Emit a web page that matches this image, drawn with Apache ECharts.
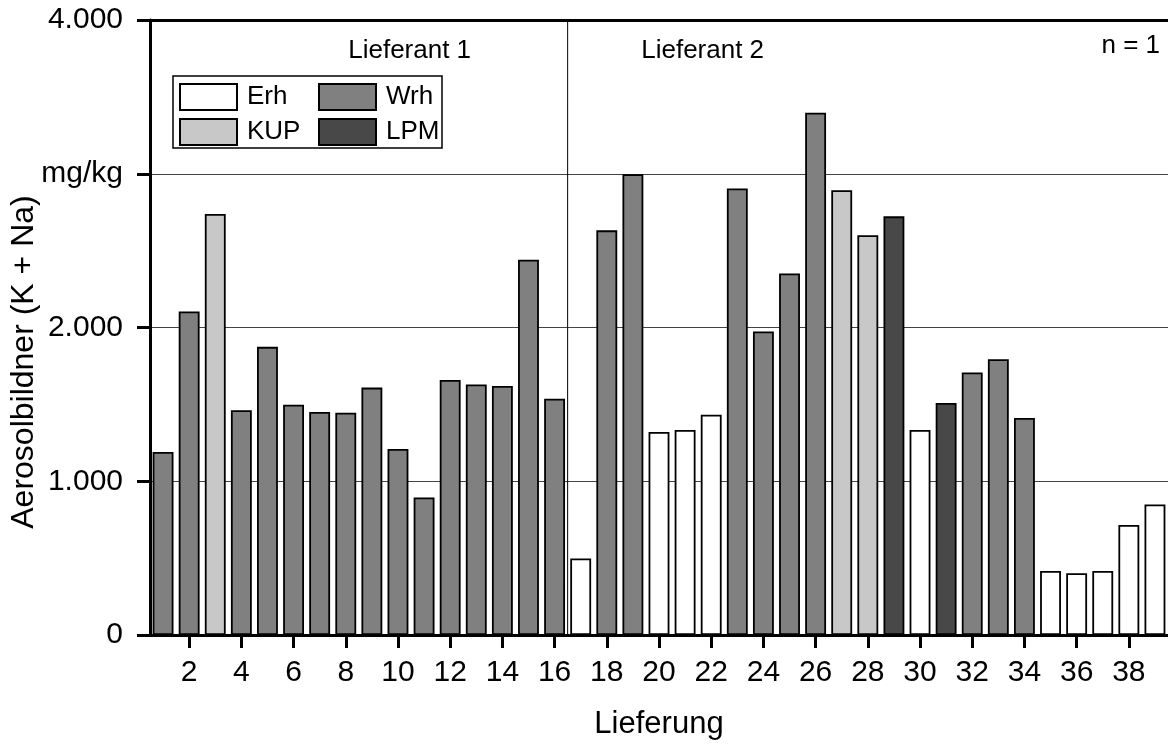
<!DOCTYPE html>
<html>
<head>
<meta charset="utf-8">
<script src="https://cdn.jsdelivr.net/npm/echarts@6/dist/echarts.min.js"></script>
<style>
html,body{margin:0;padding:0;background:#fff;}
#chart{width:1168px;height:745px;}
</style>
</head>
<body>
<div id="chart"></div>
<script>
const categories = ['1','2','3','4','5','6','7','8','9','10','11','12','13','14','15','16','17','18','19','20','21','22','23','24','25','26','27','28','29','30','31','32','33','34','35','36','37','38','39'];
const values = [1190, 2104, 2739, 1462, 1874, 1498, 1451, 1446, 1609, 1210, 895, 1659, 1629, 1620, 2441, 1537,
                498, 2632, 2997, 1321, 1334, 1433, 2904, 1974, 2352, 3397, 2893, 2600, 2723, 1334, 1509, 1707, 1794, 1412, 417, 402, 417, 715, 849];
const types = ['Wrh','Wrh','KUP','Wrh','Wrh','Wrh','Wrh','Wrh','Wrh','Wrh','Wrh','Wrh','Wrh','Wrh','Wrh','Wrh',
               'Erh','Wrh','Wrh','Erh','Erh','Erh','Wrh','Wrh','Wrh','Wrh','KUP','KUP','LPM','Erh','LPM','Wrh','Wrh','Wrh','Erh','Erh','Erh','Erh','Erh'];
const seriesNames = ['Erh','Wrh','KUP','LPM'];
const seriesColors = {Erh:'#ffffff', Wrh:'#808080', KUP:'#c8c8c8', LPM:'#484848'};
const yTickValues = [0, 1000, 2000, 3000, 4000];
const yTickLabels = ['0','1.000','2.000','mg/kg','4.000'];
const supplierLabels = ['Lieferant 1','Lieferant 2'];
const supplierSplitAfter = 16;
const noteText = 'n = 1';
const xTitle = 'Lieferung';
const yTitle = 'Aerosolbildner (K + Na)';

const FONT = '"Liberation Sans", Arial, sans-serif';
const chart = echarts.init(document.getElementById('chart'), null, {renderer:'canvas'});

const series = seriesNames.map(name => ({
  name: name,
  type: 'bar',
  stack: 'all',
  barCategoryGap: '20%',
  xAxisIndex: 0,
  data: values.map((v, i) => types[i] === name ? v : null),
  itemStyle: {color: seriesColors[name], borderColor: '#000', borderWidth: 1.8},
  emphasis: {disabled: true}
}));

const GRID = {left: 150, right: -6, top: 20, bottom: 107};
const legendText = {fontSize: 26, color: '#000', fontFamily: FONT, padding: [0, 0, 0, 5]};

chart.setOption({
  animation: false,
  textStyle: {fontFamily: FONT},
  grid: GRID,
  legend: [
    {data: ['Erh','KUP'], orient: 'vertical', left: 179, top: 83, padding: 0, itemWidth: 57, itemHeight: 26, itemGap: 7,
     icon: 'rect', textStyle: legendText, selectedMode: false},
    {data: ['Wrh','LPM'], orient: 'vertical', left: 318, top: 83, padding: 0, itemWidth: 57, itemHeight: 26, itemGap: 7,
     icon: 'rect', textStyle: legendText, selectedMode: false}
  ],
  xAxis: [{
    type: 'category',
    data: categories,
    position: 'bottom',
    name: xTitle,
    nameLocation: 'middle',
    nameGap: 74,
    nameTextStyle: {fontSize: 31, color: '#000', fontFamily: FONT},
    axisLine: {lineStyle: {color: '#000', width: 3}},
    axisTick: {show: true, alignWithLabel: true, length: 13, interval: i => i % 2 === 1, lineStyle: {color: '#000', width: 3}},
    axisLabel: {interval: i => i % 2 === 1, fontSize: 30, color: '#000', margin: 23, fontFamily: FONT},
    splitLine: {show: false}
  }, {
    type: 'category',
    data: categories,
    position: 'top',
    axisLine: {show: true, lineStyle: {color: '#000', width: 3}},
    axisTick: {show: false},
    axisLabel: {show: false}
  }],
  yAxis: {
    type: 'value',
    min: 0, max: 4000, interval: 1000,
    axisLine: {show: true, lineStyle: {color: '#000', width: 3}},
    axisTick: {show: true, length: 13, lineStyle: {color: '#000', width: 3}},
    axisLabel: {fontSize: 30, color: '#000', margin: 27, fontFamily: FONT,
      formatter: v => yTickLabels[yTickValues.indexOf(v)]},
    splitLine: {show: true, lineStyle: {color: '#444', width: 1}}
  },
  series: series
});

function drawDecor() {
  const yTop = chart.convertToPixel({yAxisIndex: 0}, 4000);
  const yBottom = chart.convertToPixel({yAxisIndex: 0}, 0);
  const xa = chart.convertToPixel({xAxisIndex: 0}, categories[supplierSplitAfter - 1]);
  const xb = chart.convertToPixel({xAxisIndex: 0}, categories[supplierSplitAfter]);
  const xSplit = (xa + xb) / 2;
  const width = chart.getWidth();
  chart.setOption({
    graphic: [
      {type: 'line', shape: {x1: xSplit, y1: yTop, x2: xSplit, y2: yBottom}, style: {stroke: '#000', lineWidth: 1}, z: 5},
      {type: 'rect', shape: {x: 173, y: 76, width: 269, height: 72}, style: {fill: 'none', stroke: '#000', lineWidth: 1.5}, z: 5},
      {type: 'text', x: xSplit - 158, y: yTop + 31, style: {text: supplierLabels[0], font: '26px ' + FONT, fill: '#000', align: 'center', verticalAlign: 'middle'}, z: 5},
      {type: 'text', x: xSplit + 135, y: yTop + 31, style: {text: supplierLabels[1], font: '26px ' + FONT, fill: '#000', align: 'center', verticalAlign: 'middle'}, z: 5},
      {type: 'text', x: width - 8, y: yTop + 26, style: {text: noteText, font: '26px ' + FONT, fill: '#000', align: 'right', verticalAlign: 'middle'}, z: 5},
      {type: 'text', x: 24, y: 362, rotation: Math.PI / 2, style: {text: yTitle, font: '32px ' + FONT, fill: '#000', align: 'center', verticalAlign: 'middle'}, z: 5}
    ]
  });
}
drawDecor();
</script>
</body>
</html>
